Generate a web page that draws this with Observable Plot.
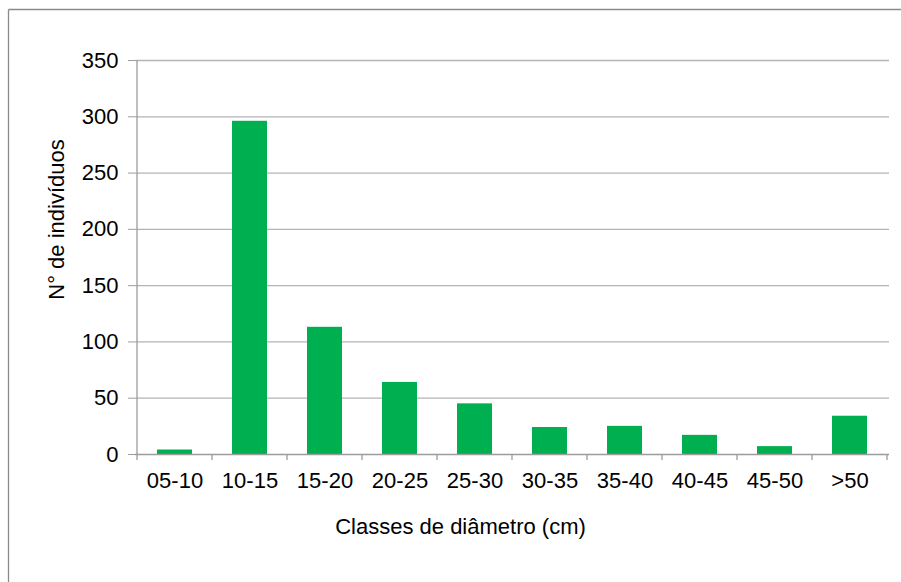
<!DOCTYPE html>
<html>
<head>
<meta charset="utf-8">
<script src="https://cdn.jsdelivr.net/npm/d3@7"></script>
<script src="https://cdn.jsdelivr.net/npm/@observablehq/plot@0.6"></script>
<style>
  html, body { margin: 0; padding: 0; background: #fff; }
  #chart { position: relative; width: 901px; height: 582px; overflow: hidden; }
  svg { display: block; }
</style>
</head>
<body>
<div id="chart"></div>
<script>
// Diameter classes (cm) and number of individuals in each
const classes = ["05-10", "10-15", "15-20", "20-25", "25-30", "30-35", "35-40", "40-45", "45-50", ">50"];
const counts  = [4, 296, 113, 64, 45, 24, 25, 17, 7, 34];
const yTicks  = [0, 50, 100, 150, 200, 250, 300, 350];
const xTitle  = "Classes de diâmetro (cm)";
const yTitle  = "N° de indivíduos";

const rows = classes.map((c, i) => ({classe: c, n: counts[i]}));

const font = "'Liberation Sans', Arial, sans-serif";
const W = 901, H = 582;
const mLeft = 135, mRight = 12, mTop = 60, mBottom = 128;
const fs = 22;

const plot = Plot.plot({
  width: W,
  height: H,
  marginLeft: mLeft,
  marginRight: mRight,
  marginTop: mTop,
  marginBottom: mBottom,
  style: {fontFamily: font, fontSize: fs + "px", color: "#000", background: "#fff"},
  x: {type: "band", domain: classes, paddingInner: 0.53, paddingOuter: 0.265},
  y: {domain: [0, 350]},
  marks: [
    // horizontal gridlines
    Plot.ruleY(yTicks.filter(d => d > 0), {stroke: "#b4b4b4", strokeWidth: 1.3}),
    Plot.barY(rows, {x: "classe", y: "n", fill: "#00b050"}),
    // baseline
    Plot.ruleY([0], {stroke: "#9c9c9c", strokeWidth: 1.3}),
    Plot.axisY({ticks: yTicks, tickSize: 7, tickPadding: 10, stroke: "#9c9c9c",
                fontSize: fs, label: null, tickFormat: d => String(d)}),
    Plot.axisX({tickSize: 0, tickPadding: 18, fontSize: fs, label: null}),
    // axis titles
    Plot.text([xTitle], {frameAnchor: "bottom", text: d => d, dx: -52, dy: 72,
                         fontSize: fs, textAnchor: "middle", lineAnchor: "middle", fill: "#000"}),
    Plot.text([yTitle], {frameAnchor: "left", text: d => d, rotate: -90, dx: -79, dy: -38,
                         fontSize: fs, textAnchor: "middle", lineAnchor: "middle", fill: "#000"})
  ]
});

document.getElementById("chart").appendChild(plot);

// vertical axis line and category boundary ticks on the x axis, from the plot's own scales
const xs = plot.scale("x");
const ys = plot.scale("y");
const gap = (xs.step - xs.bandwidth) / 2;
const bounds = classes.map(c => xs.apply(c) - gap);
bounds.push(xs.apply(classes[classes.length - 1]) + xs.bandwidth + gap);
const y0 = ys.apply(0);
const svg = d3.select(plot);
const g = svg.append("g").attr("stroke", "#9c9c9c").attr("stroke-width", 1.3);
g.append("line")
  .attr("x1", bounds[0]).attr("x2", bounds[0])
  .attr("y1", ys.apply(350)).attr("y2", y0);
g.selectAll("line.tick").data(bounds).join("line")
  .attr("class", "tick")
  .attr("x1", d => d).attr("x2", d => d)
  .attr("y1", y0).attr("y2", y0 + 6);

// chart area border
const b = svg.append("g").attr("stroke", "#8a8a8a").attr("stroke-width", 1.3).attr("fill", "none");
b.append("line").attr("x1", 8.5).attr("x2", 8.5).attr("y1", 9.5).attr("y2", H);
b.append("line").attr("x1", 8.5).attr("x2", W).attr("y1", 9.5).attr("y2", 9.5);
</script>
</body>
</html>
